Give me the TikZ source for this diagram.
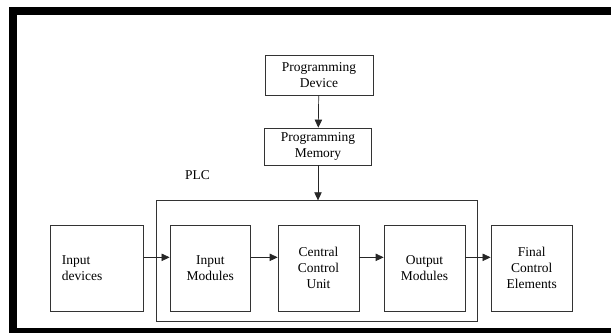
\documentclass[tikz,border=0pt]{standalone}
\usepackage{fontspec}
\setmainfont{Liberation Serif}
\usetikzlibrary{arrows.meta}

\begin{document}
\begin{tikzpicture}[x=0.03cm, y=-0.03cm,
    box/.style={draw=black!80, line width=0.6pt, align=center, inner sep=1pt,
        font=\fontsize{11.5}{13.5}\selectfont},
    arr/.style={draw=black!85, line width=0.6pt, -{Triangle[length=2.4mm, width=2.2mm]}}]
    \useasboundingbox (0,0) rectangle (611,333);

    % Black frame round the picture
    \fill[black] (8.7,6.7) rectangle (611,15);
    \fill[black] (8.7,6.7) rectangle (16.7,333);
    \fill[black] (8.7,327.7) rectangle (611,333);

    % Programming side
    \node[box, minimum width=3.24cm, minimum height=1.2cm] (dev) at (319,75.5) {Programming\\Device};
    \node[box, minimum width=3.21cm, minimum height=1.11cm] (mem) at (318,146.5) {Programming\\Memory};

    % PLC frame and its label
    \node[box, minimum width=9.63cm, minimum height=3.63cm] (plc) at (317.2,261.2) {};
    \node[font=\fontsize{11.5}{13.5}\selectfont] (plclabel) at (197.5,175) {PLC};

    % Blocks of the chain
    \node[box, minimum width=2.78cm, minimum height=2.58cm, text width=2.1cm, align=left, inner xsep=0.33cm] (indev) at (97,268) {Input\\devices};
    \node[box, minimum width=2.42cm, minimum height=2.58cm] (inmod) at (210.3,268) {Input\\Modules};
    \node[box, minimum width=2.43cm, minimum height=2.58cm] (ccu) at (318.5,268) {Central\\Control\\Unit};
    \node[box, minimum width=2.43cm, minimum height=2.58cm] (outmod) at (424.5,268) {Output\\Modules};
    \node[box, minimum width=2.45cm, minimum height=2.58cm] (final) at (531.8,268) {Final\\Control\\Elements};

    % Connectors
    \draw[arr] (dev) -- (mem);
    \draw[arr] (mem.south) -- (mem.south |- plc.north);
    \draw[arr] ([yshift=0.32cm]indev.east) -- ([yshift=0.32cm]inmod.west);
    \draw[arr] ([yshift=0.32cm]inmod.east) -- ([yshift=0.32cm]ccu.west);
    \draw[arr] ([yshift=0.32cm]ccu.east) -- ([yshift=0.32cm]outmod.west);
    \draw[arr] ([yshift=0.32cm]outmod.east) -- ([yshift=0.32cm]final.west);
\end{tikzpicture}
\end{document}
